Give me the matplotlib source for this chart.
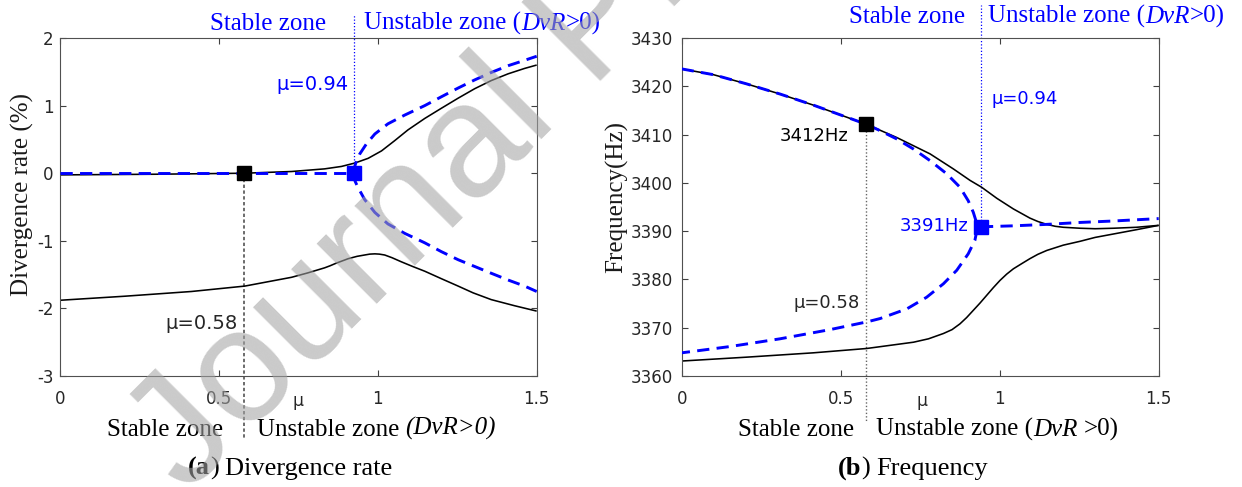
import matplotlib
matplotlib.use('Agg')
import matplotlib.pyplot as plt

plt.rcParams['font.family'] = ['DejaVu Sans']
plt.rcParams['axes.unicode_minus'] = False

# ---------------- data: (a) divergence rate ----------------
dvr_black_up_mu = [0, 0.309, 0.582, 0.729, 0.833, 0.886, 0.928, 0.970, 1.012, 1.053,
                   1.095, 1.148, 1.200, 1.253, 1.305, 1.357, 1.410, 1.462, 1.50]
dvr_black_up = [-0.025, -0.015, 0.0, 0.025, 0.064, 0.10, 0.15, 0.22, 0.33, 0.48,
                0.64, 0.81, 0.96, 1.11, 1.25, 1.37, 1.47, 1.55, 1.60]

dvr_black_lo_mu = [0, 0.204, 0.414, 0.582, 0.729, 0.780, 0.833, 0.850, 0.870, 0.890,
                   0.907, 0.935, 0.959, 0.975, 0.991, 1.005, 1.022, 1.045, 1.074, 1.110,
                   1.148, 1.200, 1.253, 1.300, 1.357, 1.430, 1.50]
dvr_black_lo = [-1.88, -1.82, -1.75, -1.67, -1.54, -1.475, -1.40, -1.37, -1.33, -1.295,
                -1.265, -1.23, -1.21, -1.197, -1.193, -1.197, -1.21, -1.25, -1.31, -1.38,
                -1.45, -1.56, -1.67, -1.77, -1.87, -1.96, -2.04]

dvr_blue_flat_mu = [0, 0.925]
dvr_blue_flat = [0.0, 0.0]

dvr_blue_up_mu = [0.925, 0.926, 0.929, 0.934, 0.943, 0.964, 0.991, 1.032, 1.085, 1.148,
                  1.200, 1.253, 1.305, 1.357, 1.410, 1.462, 1.50]
dvr_blue_up = [0.0, 0.06, 0.12, 0.19, 0.28, 0.43, 0.58, 0.73, 0.86, 1.00,
               1.13, 1.26, 1.38, 1.49, 1.59, 1.67, 1.73]

dvr_blue_lo_mu = [0.925, 0.926, 0.929, 0.938, 0.959, 0.991, 1.032, 1.085, 1.148, 1.200,
                  1.253, 1.305, 1.357, 1.410, 1.462, 1.50]
dvr_blue_lo = [0.0, -0.06, -0.12, -0.21, -0.39, -0.58, -0.75, -0.89, -1.03, -1.16,
               -1.28, -1.38, -1.48, -1.58, -1.67, -1.75]

dvr_mark_black = (0.58, 0.0)
dvr_mark_blue = (0.925, 0.0)

# ---------------- data: (b) frequency ----------------
f_black_up_mu = [0, 0.10, 0.204, 0.309, 0.414, 0.519, 0.582, 0.676, 0.781, 0.854,
                 0.907, 0.943, 0.991, 1.043, 1.095, 1.120, 1.148, 1.175, 1.200, 1.253,
                 1.300, 1.357, 1.430, 1.50]
f_black_up = [3423.6, 3422.4, 3420.5, 3418.4, 3416.1, 3413.6, 3412.1, 3409.4, 3406.0, 3402.9,
              3400.5, 3399.1, 3396.8, 3394.6, 3392.7, 3392.0, 3391.4, 3391.0, 3390.8, 3390.6,
              3390.5, 3390.6, 3390.8, 3391.2]

f_black_lo_mu = [0, 0.204, 0.414, 0.582, 0.729, 0.776, 0.823, 0.850, 0.875, 0.896,
                 0.917, 0.938, 0.959, 0.980, 1.001, 1.022, 1.043, 1.070, 1.095, 1.120,
                 1.148, 1.200, 1.253, 1.300, 1.357, 1.430, 1.50]
f_black_lo = [3363.1, 3363.9, 3364.8, 3365.7, 3367.0, 3367.7, 3368.8, 3369.6, 3370.8, 3372.1,
              3373.6, 3375.1, 3376.7, 3378.3, 3379.8, 3381.1, 3382.2, 3383.3, 3384.3, 3385.2,
              3386.0, 3387.1, 3387.9, 3388.7, 3389.4, 3390.3, 3391.2]

# blue branch: upper part then folding back along the lower part
f_blue_mu = [0, 0.10, 0.204, 0.309, 0.414, 0.519, 0.582, 0.624, 0.676, 0.729,
             0.781, 0.833, 0.875, 0.901, 0.917, 0.926, 0.928, 0.926, 0.922, 0.901,
             0.865, 0.823, 0.770, 0.708, 0.624, 0.582, 0.466, 0.309, 0.152, 0]
f_blue = [3423.6, 3422.4, 3420.5, 3418.4, 3416.1, 3413.6, 3412.1, 3410.8, 3409.1, 3407.0,
          3404.6, 3401.9, 3399.1, 3396.3, 3393.9, 3392.0, 3390.7, 3389.4, 3388.1, 3385.3,
          3381.9, 3379.1, 3376.3, 3373.9, 3371.9, 3371.2, 3369.6, 3367.7, 3366.1, 3364.8]

f_blue_after_mu = [0.941, 1.043, 1.148, 1.253, 1.357, 1.50]
f_blue_after = [3390.9, 3391.1, 3391.4, 3391.8, 3392.1, 3392.6]

f_mark_black = (0.58, 3412.1)
f_mark_blue = (0.941, 3390.9)

x_ticks = [0, 0.5, 1, 1.5]
x_tick_labels = ['0', '0.5', '1', '1.5']
dvr_ticks = [-3, -2, -1, 0, 1, 2]
dvr_tick_labels = ['-3', '-2', '-1', '0', '1', '2']
f_ticks = [3360, 3370, 3380, 3390, 3400, 3410, 3420, 3430]
f_tick_labels = [str(v) for v in f_ticks]

# ---------------- styles ----------------
BLUE = '#0000FF'
SERIF = 'Liberation Serif'
TXT = '#262626'
W, H = 1242, 487


def fx(px):
    return px / W


def fy(py):
    return 1 - py / H


fig = plt.figure(figsize=(W / 100, H / 100), dpi=100)
axL = fig.add_axes([fx(59.7), fy(376), 477 / W, 338 / H])
axR = fig.add_axes([fx(681.7), fy(376), 477 / W, 338 / H])

black_kw = dict(color='black', lw=1.15, zorder=2, solid_capstyle='butt', solid_joinstyle='round')
blue_kw = dict(color=BLUE, lw=2.1, ls=(0, (4.2, 2.5)), zorder=3)

for ax in (axL, axR):
    ax.set_xlim(0, 1.5)
    ax.set_xticks(x_ticks)
    ax.set_xticklabels(x_tick_labels)
    ax.tick_params(direction='in', length=4, width=0.8, top=True, right=True,
                   color='#404040', labelcolor=TXT, labelsize=12)
    ax.tick_params(axis='x', pad=10.3)
    for sp in ax.spines.values():
        sp.set_color('#505050')
        sp.set_linewidth(0.8)

axL.tick_params(axis='y', pad=4.6)
axR.tick_params(axis='y', pad=6.5)

# ---- (a)
axL.set_ylim(-3, 2)
axL.set_yticks(dvr_ticks)
axL.set_yticklabels(dvr_tick_labels)
axL.plot(dvr_black_up_mu, dvr_black_up, **black_kw)
axL.plot(dvr_black_lo_mu, dvr_black_lo, **black_kw)
axL.plot(dvr_blue_flat_mu, dvr_blue_flat, **blue_kw)
axL.plot(dvr_blue_up_mu, dvr_blue_up, **blue_kw)
axL.plot(dvr_blue_lo_mu, dvr_blue_lo, **blue_kw)
axL.plot([dvr_mark_black[0]] * 2, [dvr_mark_black[1], -3.92], color='#444444', lw=1.1,
         ls=(0, (2.2, 1.6)), clip_on=False, zorder=1)
axL.plot([dvr_mark_blue[0]] * 2, [dvr_mark_blue[1], 2.34], color=BLUE, lw=0.9,
         ls=(0, (1, 1.6)), clip_on=False, zorder=1)
axL.plot(*dvr_mark_black, marker='s', ms=9.5, color='black', zorder=5, ls='none')
axL.plot(*dvr_mark_blue, marker='s', ms=9.5, color=BLUE, zorder=5, ls='none')
axL.text(0.907, 1.315, 'μ=0.94', ha='right', va='center', color=BLUE, fontsize=14)
axL.text(0.558, -2.22, 'μ=0.58', ha='right', va='center', color=TXT, fontsize=14)

# ---- (b)
axR.set_ylim(3360, 3430)
axR.set_yticks(f_ticks)
axR.set_yticklabels(f_tick_labels)
axR.plot(f_black_up_mu, f_black_up, **black_kw)
axR.plot(f_black_lo_mu, f_black_lo, **black_kw)
axR.plot(f_blue_mu, f_blue, **blue_kw)
axR.plot(f_blue_after_mu, f_blue_after, **blue_kw)
axR.plot([f_mark_black[0]] * 2, [f_mark_black[1], 3350.5], color='#666666', lw=1.0,
         ls=(0, (1, 1.5)), clip_on=False, zorder=1)
axR.plot([f_mark_blue[0]] * 2, [f_mark_blue[1], 3436.8], color=BLUE, lw=0.9,
         ls=(0, (1, 1.6)), clip_on=False, zorder=1)
axR.plot(*f_mark_black, marker='s', ms=9.5, color='black', zorder=5, ls='none')
axR.plot(*f_mark_blue, marker='s', ms=9.5, color=BLUE, zorder=5, ls='none')
axR.text(0.524, 3409.8, '3412Hz', ha='right', va='center', color='black', fontsize=13)
axR.text(0.901, 3391.0, '3391Hz', ha='right', va='center', color=BLUE, fontsize=13)
axR.text(0.975, 3417.4, 'μ=0.94', ha='left', va='center', color=BLUE, fontsize=13)
axR.text(0.561, 3375.2, 'μ=0.58', ha='right', va='center', color=TXT, fontsize=13)

# x labels (μ)
fig.text(fx(298), fy(406), 'μ', ha='center', va='baseline', fontsize=12.5, color=TXT)
fig.text(fx(921.6), fy(406), 'μ', ha='center', va='baseline', fontsize=12.5, color=TXT)

# y labels
fig.text(fx(22), fy(195), 'Divergence rate (%)', rotation=90, ha='center', va='center',
         family=SERIF, fontsize=18, color='#1a1a1a')
fig.text(fx(617), fy(197), 'Frequency(Hz)', rotation=90, ha='center', va='center',
         family=SERIF, fontsize=18, color='#1a1a1a')


def chain(x_px, y_px, segs, color, size=18):
    """Draw text segments side by side; segs = (text, style, weight, gap_pt)."""
    prev = None
    for s, style, weight, gap in segs:
        kw = dict(fontsize=size, family=SERIF, style=style, weight=weight, color=color)
        if prev is None:
            prev = fig.text(fx(x_px), fy(y_px), s, ha='left', va='baseline', **kw)
        else:
            prev = axL.annotate(s, xy=(1, 0), xycoords=prev, xytext=(gap, 0),
                                textcoords='offset points', ha='left', va='bottom',
                                annotation_clip=False, **kw)
    return prev


SP = 4.5  # width of a space in points at 18 pt

# top zone labels
fig.text(fx(326), fy(30), 'Stable zone', ha='right', va='baseline', family=SERIF,
         fontsize=18, color=BLUE)
chain(364, 30, [('Unstable zone (', 'normal', 'normal', 0), ('DvR', 'italic', 'normal', 0),
                ('>0)', 'normal', 'normal', 0)], BLUE)
fig.text(fx(965), fy(22.7), 'Stable zone', ha='right', va='baseline', family=SERIF,
         fontsize=18, color=BLUE)
chain(988, 22.7, [('Unstable zone (', 'normal', 'normal', 0), ('DvR', 'italic', 'normal', 0),
                  ('>0)', 'normal', 'normal', 0)], BLUE)

# bottom zone labels
fig.text(fx(223), fy(435.5), 'Stable zone', ha='right', va='baseline', family=SERIF,
         fontsize=18, color='black')
chain(257, 435.5, [('Unstable zone', 'normal', 'normal', 0), ('(DvR>0)', 'italic', 'normal', SP)],
      'black')
fig.text(fx(854), fy(435.5), 'Stable zone', ha='right', va='baseline', family=SERIF,
         fontsize=18, color='black')
chain(876, 435.5, [('Unstable zone (', 'normal', 'normal', 0), ('DvR', 'italic', 'normal', 0),
                   ('>0)', 'normal', 'normal', SP)], 'black')

# captions
chain(188, 475, [('(a', 'normal', 'bold', 0), (')', 'normal', 'normal', 0),
                 ('Divergence rate', 'normal', 'normal', SP)], 'black', size=19)
chain(838, 475, [('(b', 'normal', 'bold', 0), (')', 'normal', 'normal', 0),
                 ('Frequency', 'normal', 'normal', SP)], 'black', size=19)

# watermark
WM = (164 / 255, 164 / 255, 164 / 255)
fig.text(fx(186), fy(495), 'Journal Pre-proof', family='Liberation Sans', fontsize=116,
         rotation=45, rotation_mode='anchor', ha='left', va='baseline',
         color=WM, alpha=0.58, zorder=20)

fig.savefig('out.png', dpi=100)
